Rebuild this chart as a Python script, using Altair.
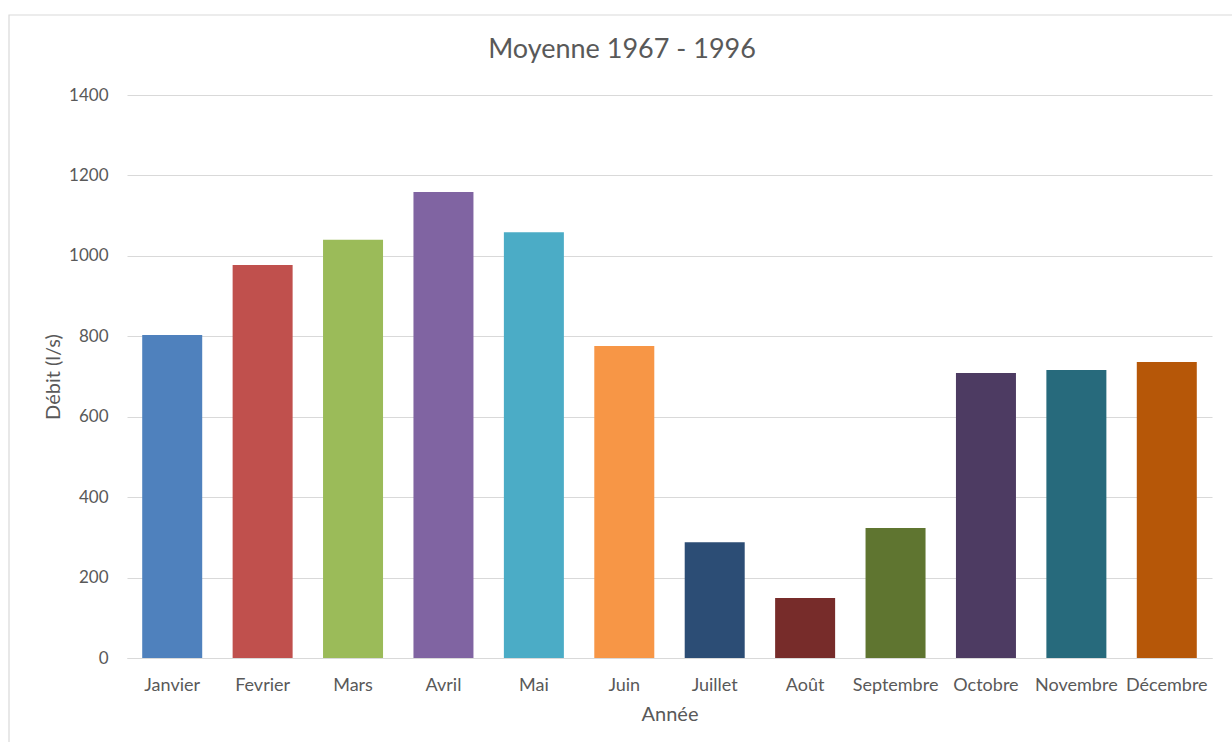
import altair as alt
import pandas as pd

months = ["Janvier", "Fevrier", "Mars", "Avril", "Mai", "Juin", "Juillet",
          "Août", "Septembre", "Octobre", "Novembre", "Décembre"]
debit = [803, 977, 1040, 1159, 1059, 776, 288, 149, 323, 709, 716, 736]
colors = ["#4F81BD", "#C0504D", "#9BBB59", "#8064A2", "#4BACC6", "#F79646",
          "#2C4D75", "#772C2A", "#5F7530", "#4D3B62", "#276A7C", "#B65708"]
y_ticks = [0, 200, 400, 600, 800, 1000, 1200, 1400]
title_text = "Moyenne 1967 - 1996"

df = pd.DataFrame({"Mois": months, "Debit": debit})

FONT = "Lato"
TXT = "#595959"
W, H = 1085, 563

bars = alt.Chart(df).mark_bar(width=60).encode(
    x=alt.X("Mois:N", sort=months,
            scale=alt.Scale(paddingInner=0.0, paddingOuter=0.0),
            axis=alt.Axis(title="Année", labelAngle=0, ticks=False,
                          domainColor="#d9d9d9", labelPadding=18,
                          labelFontSize=18, titlePadding=10)),
    y=alt.Y("Debit:Q", scale=alt.Scale(domain=[0, 1400], nice=False),
            axis=alt.Axis(title="Débit (l/s)", values=y_ticks, grid=True,
                          format="d", labelFontSize=17,
                          gridColor="#d9d9d9", domain=False, ticks=False,
                          labelPadding=19, titlePadding=5)),
    color=alt.Color("Mois:N", sort=months,
                    scale=alt.Scale(domain=months, range=colors), legend=None),
)

one = pd.DataFrame({"t": [title_text]})

border = alt.Chart(one).mark_rect(
    fill=None, stroke="#d9d9d9", strokeWidth=1.2
).encode(
    x=alt.value(-118), x2=alt.value(W + 60),
    y=alt.value(-80), y2=alt.value(H + 120),
)

title = alt.Chart(one).mark_text(
    font=FONT, fontSize=27, color=TXT, align="center", baseline="middle"
).encode(
    x=alt.value(495), y=alt.value(-45), text="t:N",
)

chart = alt.layer(border, bars, title).properties(
    width=W, height=H,
    autosize=alt.AutoSizeParams(type="none"),
    padding={"left": 127, "top": 95, "right": 20, "bottom": 84},
).configure(background="white").configure_view(stroke=None).configure_axis(
    labelFont=FONT, titleFont=FONT, labelColor=TXT, titleColor=TXT,
    titleFontSize=20, titleFontWeight="normal",
)

chart.save("out.html", embed_options={"renderer": "svg", "actions": False})
